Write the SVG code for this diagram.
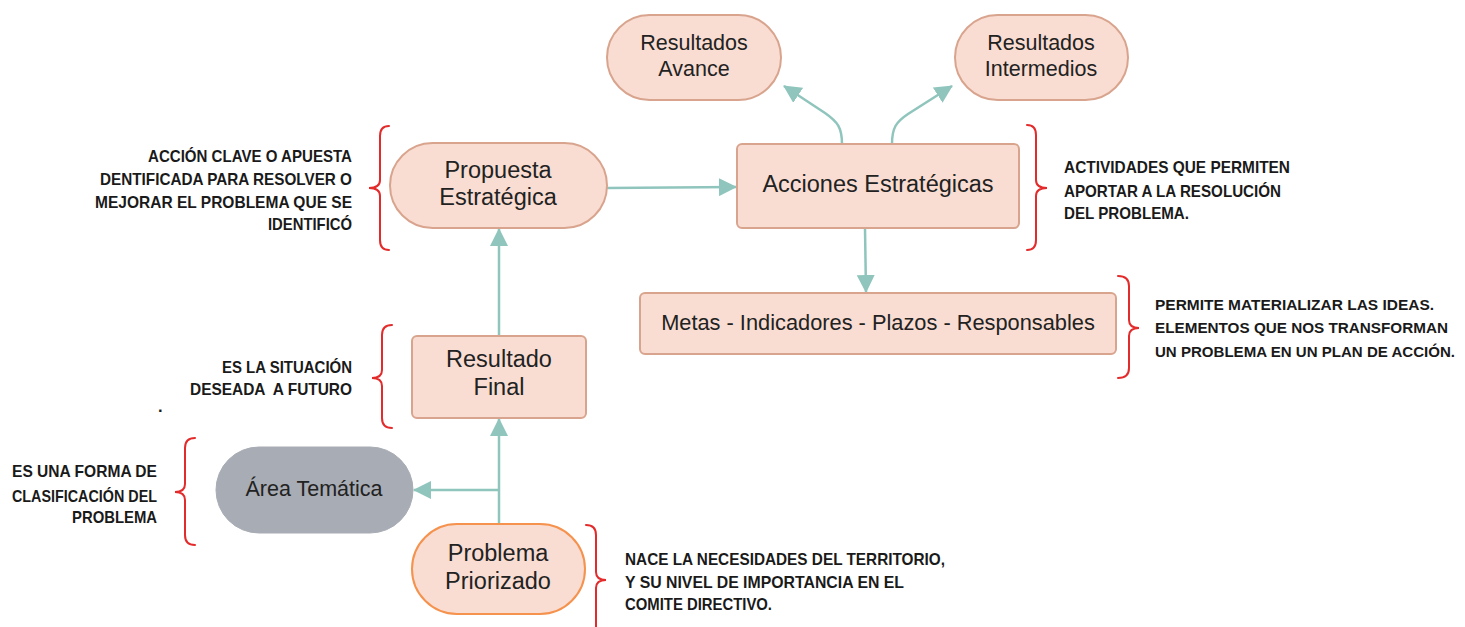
<svg xmlns="http://www.w3.org/2000/svg" width="1465" height="627" viewBox="0 0 1465 627">
<style>
.node{fill:#f9ddd2;stroke:#d9a48e;stroke-width:2}
.orange{fill:#f9ddd2;stroke:#f5924e;stroke-width:2}
.gray{fill:#a8acb4;stroke:#a8acb4;stroke-width:1}
.lbl{font-family:"Liberation Sans",Arial,sans-serif;fill:#222;text-anchor:middle}
.conn{fill:none;stroke:#8fc5bd;stroke-width:2.5}
.brace{fill:none;stroke:#e32b2b;stroke-width:2;stroke-linecap:round}
.note{font-family:"Liberation Sans",Arial,sans-serif;font-weight:bold;font-size:16.5px;fill:#1a1a1a}
.sm{font-size:15px}
.r{text-anchor:end}
</style>
<defs>
<marker id="ah" markerUnits="userSpaceOnUse" markerWidth="18" markerHeight="18" refX="17" refY="9" orient="auto">
<path d="M0,0 L18,9 L0,18 z" fill="#8fc5bd"/>
</marker>
</defs>
<rect width="1465" height="627" fill="#ffffff"/>

<g id="connectors">
<path class="conn" d="M607,188 L736,187" marker-end="url(#ah)"/>
<path class="conn" d="M842,144 C842,128 838,122 825,113 L784,86" marker-end="url(#ah)"/>
<path class="conn" d="M892,144 C892,128 896,122 908,114 L952,86" marker-end="url(#ah)"/>
<path class="conn" d="M865,228 L866,292" marker-end="url(#ah)"/>
<path class="conn" d="M499,336 L499,229" marker-end="url(#ah)"/>
<path class="conn" d="M499,524 L499,419" marker-end="url(#ah)"/>
<path class="conn" d="M499,490 L414,490" marker-end="url(#ah)"/>
</g>

<g id="resultados-avance">
<rect class="node" x="607" y="15" width="174" height="85" rx="42.5"/>
<text class="lbl" font-size="21.5" x="694" y="50">Resultados</text>
<text class="lbl" font-size="21.5" x="694" y="76">Avance</text>
</g>
<g id="resultados-intermedios">
<rect class="node" x="955" y="15" width="173" height="85" rx="42.5"/>
<text class="lbl" font-size="21.5" x="1041" y="50">Resultados</text>
<text class="lbl" font-size="21.5" x="1041" y="76">Intermedios</text>
</g>
<g id="propuesta-estrategica">
<rect class="node" x="390" y="143" width="217" height="85" rx="42.5"/>
<text class="lbl" font-size="23.5" x="498" y="178">Propuesta</text>
<text class="lbl" font-size="23.5" x="498" y="205">Estratégica</text>
</g>
<g id="acciones-estrategicas">
<rect class="node" x="737" y="144" width="282" height="84" rx="5"/>
<text class="lbl" font-size="23.5" x="878" y="192">Acciones Estratégicas</text>
</g>
<g id="metas">
<rect class="node" x="640" y="293" width="476" height="61" rx="5"/>
<text class="lbl" font-size="21.8" x="878" y="330">Metas - Indicadores - Plazos - Responsables</text>
</g>
<g id="resultado-final">
<rect class="node" x="412" y="336" width="174" height="82" rx="5"/>
<text class="lbl" font-size="23.5" x="499" y="367">Resultado</text>
<text class="lbl" font-size="23.5" x="499" y="395">Final</text>
</g>
<g id="area-tematica">
<rect class="gray" x="216" y="447" width="197" height="86" rx="43"/>
<text class="lbl" font-size="21.5" x="314" y="496">Área Temática</text>
</g>
<g id="problema-priorizado">
<rect class="orange" x="412" y="524" width="173" height="90" rx="45"/>
<text class="lbl" font-size="23.5" x="498" y="561">Problema</text>
<text class="lbl" font-size="23.5" x="498" y="589">Priorizado</text>
</g>

<g id="braces">
<path class="brace" d="M389,126 Q380,126 380,136 L380,180 Q380,188 369,188 Q380,188 380,196 L380,240 Q380,250 389,250"/>
<path class="brace" d="M1027,125 Q1036,125 1036,135 L1036,180 Q1036,188 1047,188 Q1036,188 1036,196 L1036,240 Q1036,250 1027,250"/>
<path class="brace" d="M1118,276 Q1129,276 1129,286 L1129,320 Q1129,328 1139,328 Q1129,328 1129,336 L1129,368 Q1129,378 1118,378"/>
<path class="brace" d="M392,325 Q382,325 382,335 L382,370 Q382,378 372,378 Q382,378 382,386 L382,418 Q382,428 392,428"/>
<path class="brace" d="M195,438 Q185,438 185,448 L185,484 Q185,492 175,492 Q185,492 185,500 L185,535 Q185,545 195,545"/>
<path class="brace" d="M586,525 Q596,525 596,535 L596,572 Q596,580 606,580 Q596,580 596,588 L596,630"/>
</g>

<g id="notes">
<text class="note r" x="352" y="162" textLength="204" lengthAdjust="spacingAndGlyphs">ACCIÓN CLAVE O APUESTA</text>
<text class="note r" x="352" y="185" textLength="252" lengthAdjust="spacingAndGlyphs">DENTIFICADA PARA RESOLVER O</text>
<text class="note r" x="352" y="208" textLength="257" lengthAdjust="spacingAndGlyphs">MEJORAR EL PROBLEMA QUE SE</text>
<text class="note r" x="352" y="230" textLength="84" lengthAdjust="spacingAndGlyphs">IDENTIFICÓ</text>

<text class="note" x="1064" y="173" textLength="226" lengthAdjust="spacingAndGlyphs">ACTIVIDADES QUE PERMITEN</text>
<text class="note" x="1064" y="197" textLength="217" lengthAdjust="spacingAndGlyphs">APORTAR A LA RESOLUCIÓN</text>
<text class="note" x="1064" y="219" textLength="125" lengthAdjust="spacingAndGlyphs">DEL PROBLEMA.</text>

<text class="note sm" x="1155" y="310" textLength="279" lengthAdjust="spacingAndGlyphs">PERMITE MATERIALIZAR LAS IDEAS.</text>
<text class="note sm" x="1155" y="333" textLength="293" lengthAdjust="spacingAndGlyphs">ELEMENTOS QUE NOS TRANSFORMAN</text>
<text class="note sm" x="1155" y="357" textLength="300" lengthAdjust="spacingAndGlyphs">UN PROBLEMA EN UN PLAN DE ACCIÓN.</text>

<text class="note r" x="352" y="373" textLength="130" lengthAdjust="spacingAndGlyphs">ES LA SITUACIÓN</text>
<text class="note r" x="352" y="395" textLength="162" lengthAdjust="spacingAndGlyphs" xml:space="preserve">DESEADA  A FUTURO</text>
<text class="note" x="158" y="412">.</text>

<text class="note r" x="157" y="477" textLength="145" lengthAdjust="spacingAndGlyphs">ES UNA FORMA DE</text>
<text class="note r" x="157" y="502" textLength="145" lengthAdjust="spacingAndGlyphs">CLASIFICACIÓN DEL</text>
<text class="note r" x="157" y="523" textLength="85" lengthAdjust="spacingAndGlyphs">PROBLEMA</text>

<text class="note" x="625" y="565" textLength="320" lengthAdjust="spacingAndGlyphs">NACE LA NECESIDADES DEL TERRITORIO,</text>
<text class="note" x="625" y="588" textLength="279" lengthAdjust="spacingAndGlyphs">Y SU NIVEL DE IMPORTANCIA EN EL</text>
<text class="note" x="625" y="610" textLength="147" lengthAdjust="spacingAndGlyphs">COMITE DIRECTIVO.</text>
</g>
</svg>
